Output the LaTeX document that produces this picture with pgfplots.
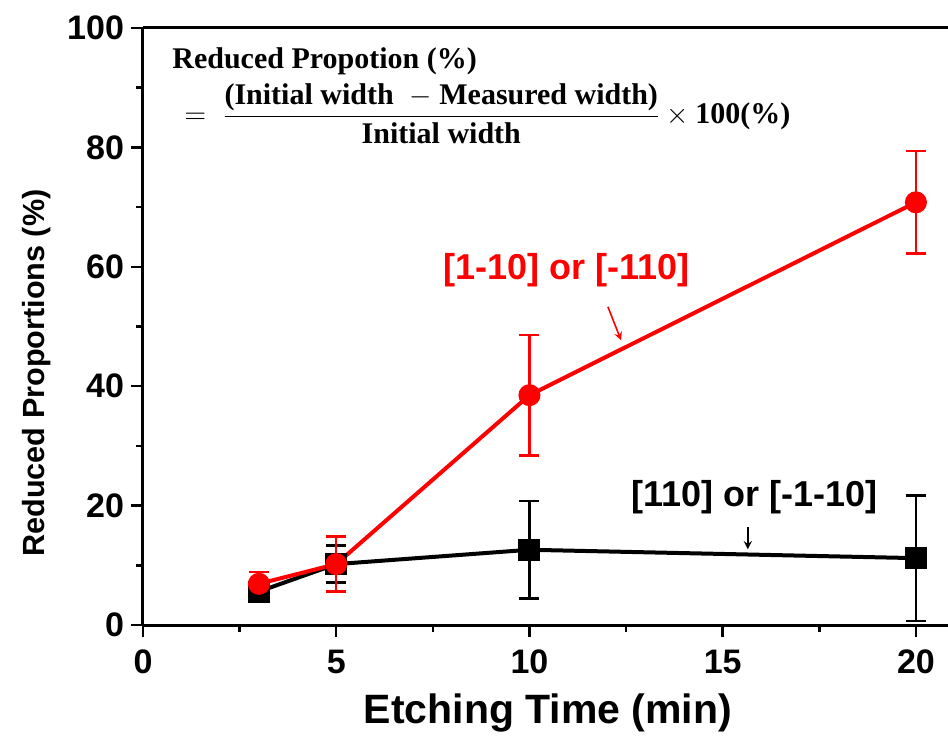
\documentclass[border=0pt]{standalone}
\usepackage{amsmath}
\usepackage{fontspec}
\usepackage{pgfplots}
\pgfplotsset{compat=1.18}
\setmainfont{Liberation Sans}
\newfontfamily\formfont{Liberation Serif}

\definecolor{myred}{RGB}{255,0,0}

\begin{document}
\begin{tikzpicture}
\begin{axis}[
  name=ax,
  scale only axis,
  width=402.5bp, height=298.5bp,
  xmin=0, xmax=20.83, ymin=0, ymax=100,
  axis lines=left,
  axis line style={-, line width=1.5bp},
  clip=false,
  xtick={0,5,10,15,20},
  ytick={0,20,40,60,80,100},
  minor x tick num=1, minor y tick num=1,
  tick align=outside,
  major tick length=6bp, minor tick length=3.5bp,
  every tick/.style={line width=1.2bp, black},
  /pgf/number format/assume math mode=true,
  ticklabel style={font=\fontsize{17bp}{20bp}\selectfont\bfseries},
  xticklabel style={yshift=-3bp},
  xlabel={Etching Time (min)},
  ylabel={Reduced Proportions (\%)},
  xlabel style={font=\fontsize{20.5bp}{24bp}\selectfont\bfseries, at={(axis description cs:0.503,-0.147)}, anchor=center},
  ylabel style={font=\fontsize{15.3bp}{18bp}\selectfont\bfseries, at={(axis description cs:-0.1317,0.422)}, anchor=center},
]
\draw[line width=1.5bp] (rel axis cs:0,1) -- (rel axis cs:1,1);

% [110] or [-1-10]
\addplot[black, line width=2bp, mark=square*, mark size=4.5bp,
  error bars/.cd, y dir=both, y explicit,
  error bar style={line width=1.25bp, solid},
  error mark options={rotate=90, line width=1.25bp, mark size=5bp}]
  coordinates {
  (3,5.6) +- (0,1.6)
  (5,10.2) +- (0,3.1)
  (10,12.6) +- (0,8.2)
  (20,11.2) +- (0,10.5)
};

% [1-10] or [-110]
\addplot[myred, line width=2bp, mark=*, mark size=4.5bp,
  error bars/.cd, y dir=both, y explicit,
  error bar style={line width=1.25bp, solid},
  error mark options={rotate=90, line width=1.25bp, mark size=5bp}]
  coordinates {
  (3,6.9) +- (0,2.0)
  (5,10.2) +- (0,4.6)
  (10,38.5) +- (0,10.1)
  (20,70.8) +- (0,8.6)
};

\node[myred, font=\fontsize{18bp}{21bp}\selectfont\bfseries, anchor=center] at (axis cs:10.97,59.5) {[1-10] or [-110]};
\draw[myred, line width=0.8bp, -stealth] (axis cs:12.03,53.3) -- (axis cs:12.37,47.7);
\node[black, font=\fontsize{18bp}{21bp}\selectfont\bfseries, anchor=center] at (axis cs:15.83,21.4) {[110] or [-1-10]};
\draw[black, line width=0.8bp, -stealth] (axis cs:15.65,16.4) -- (axis cs:15.65,12.7);

\node[anchor=base west, inner sep=0, font=\fontsize{15bp}{18bp}\selectfont\formfont\bfseries] at (axis cs:0.75,93.2) {Reduced Propotion (\%)};
\node[anchor=west, inner sep=0, font=\fontsize{15bp}{18bp}\selectfont\formfont\bfseries] at (axis cs:1.06,85.7)
  {$\displaystyle = \;\frac{\text{(Initial width\; $-$ Measured width)}}{\text{Initial width}}\times\text{100(\%)}$};
\end{axis}
\pgfresetboundingbox
\path[use as bounding box] ([shift={(-71.5bp,-63bp)}]ax.south west) rectangle ++(474bp,375.5bp);
\end{tikzpicture}
\end{document}
